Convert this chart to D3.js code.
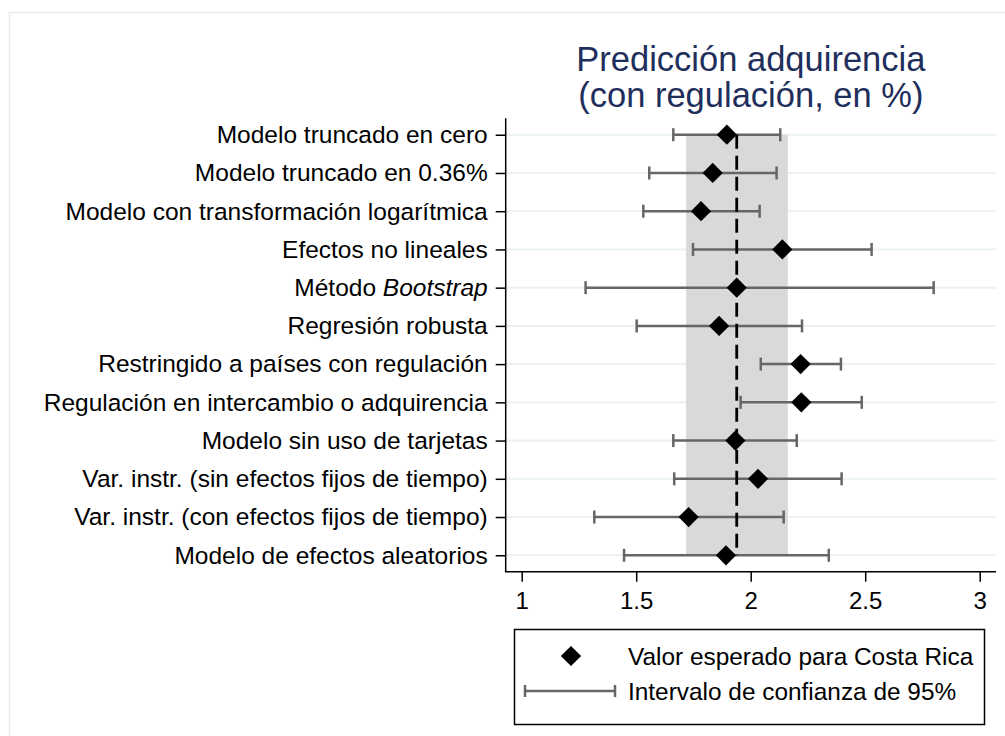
<!DOCTYPE html>
<html>
<head>
<meta charset="utf-8">
<script src="https://cdn.jsdelivr.net/npm/d3@7"></script>
<style>
  body { margin: 0; background: #fff; }
  svg { font-family: "Liberation Sans", Arial, sans-serif; }
</style>
</head>
<body>
<svg id="chart" width="1005" height="736"></svg>
<script>
// models (top to bottom)
var models = [
  "Modelo truncado en cero",
  "Modelo truncado en 0.36%",
  "Modelo con transformación logarítmica",
  "Efectos no lineales",
  "Método Bootstrap",
  "Regresión robusta",
  "Restringido a países con regulación",
  "Regulación en intercambio o adquirencia",
  "Modelo sin uso de tarjetas",
  "Var. instr. (sin efectos fijos de tiempo)",
  "Var. instr. (con efectos fijos de tiempo)",
  "Modelo de efectos aleatorios"
];
// expected value for Costa Rica
var estimate = [1.896, 1.834, 1.783, 2.138, 1.939, 1.862, 2.218, 2.221, 1.933, 2.032, 1.729, 1.892];
// 95% interval
var lower = [1.662, 1.557, 1.531, 1.748, 1.279, 1.502, 2.044, 1.956, 1.662, 1.666, 1.317, 1.447];
var upper = [2.129, 2.113, 2.039, 2.528, 2.799, 2.224, 2.394, 2.485, 2.201, 2.397, 2.144, 2.341];
// baseline estimate and its interval (shaded band)
var baseline = 1.939;
var band = [1.718, 2.162];
var xTicks = [1, 1.5, 2, 2.5, 3];

var svg = d3.select("#chart");

// light outer frame
svg.append("rect")
  .attr("x", 9.5).attr("y", 12.5)
  .attr("width", 1010).attr("height", 740)
  .attr("fill", "none").attr("stroke", "#e4ecee").attr("stroke-width", 1.5);

var pLeft = 505.7, pRight = 996, pTop = 118.3, pBottom = 571.7;

var x = d3.scaleLinear().domain([1, 3]).range([521.7, 979.7]);
var y = d3.scalePoint().domain(models).range([pTop, pBottom]).padding(0.43);

var data = models.map(function(m, i) {
  return { name: m, est: estimate[i], lo: lower[i], hi: upper[i] };
});

// gridlines
svg.append("g").selectAll("line")
  .data(models).enter().append("line")
  .attr("x1", pLeft).attr("x2", pRight)
  .attr("y1", function(d) { return y(d); })
  .attr("y2", function(d) { return y(d); })
  .attr("stroke", "#eaf1f3").attr("stroke-width", 2);

var yFirst = y(models[0]), yLast = y(models[models.length - 1]);

// shaded band
svg.append("rect")
  .attr("x", x(band[0])).attr("width", x(band[1]) - x(band[0]))
  .attr("y", yFirst).attr("height", yLast - yFirst)
  .attr("fill", "#d9d9d9");

// interval bars
var bars = svg.append("g").selectAll("g")
  .data(data).enter().append("g")
  .attr("stroke", "#666").attr("stroke-width", 2.5);
bars.append("line")
  .attr("x1", function(d) { return x(d.lo); })
  .attr("x2", function(d) { return x(d.hi); })
  .attr("y1", function(d) { return y(d.name); })
  .attr("y2", function(d) { return y(d.name); });
bars.append("line")
  .attr("x1", function(d) { return x(d.lo); })
  .attr("x2", function(d) { return x(d.lo); })
  .attr("y1", function(d) { return y(d.name) - 6.5; })
  .attr("y2", function(d) { return y(d.name) + 6.5; });
bars.append("line")
  .attr("x1", function(d) { return x(d.hi); })
  .attr("x2", function(d) { return x(d.hi); })
  .attr("y1", function(d) { return y(d.name) - 6.5; })
  .attr("y2", function(d) { return y(d.name) + 6.5; });

// dashed baseline
svg.append("line")
  .attr("x1", x(baseline)).attr("x2", x(baseline))
  .attr("y1", yFirst).attr("y2", yLast)
  .attr("stroke", "#000").attr("stroke-width", 2.8)
  .attr("stroke-dasharray", "14,7");

// diamonds
var diamond = d3.symbol().type(d3.symbolSquare).size(205);
svg.append("g").selectAll("path")
  .data(data).enter().append("path")
  .attr("d", diamond)
  .attr("transform", function(d) { return "translate(" + x(d.est) + "," + y(d.name) + ") rotate(45)"; })
  .attr("fill", "#000");

// axes
svg.append("line")
  .attr("x1", pLeft).attr("x2", pLeft).attr("y1", pTop).attr("y2", pBottom)
  .attr("stroke", "#000").attr("stroke-width", 1.5);
svg.append("line")
  .attr("x1", pLeft - 0.75).attr("x2", pRight).attr("y1", pBottom).attr("y2", pBottom)
  .attr("stroke", "#000").attr("stroke-width", 1.5);

var xAxis = svg.append("g")
  .attr("transform", "translate(0," + pBottom + ")")
  .call(d3.axisBottom(x).tickValues(xTicks).tickSize(10).tickPadding(10).tickFormat(d3.format("")));
xAxis.select(".domain").remove();
xAxis.selectAll(".tick line").attr("stroke", "#000").attr("stroke-width", 1.5);
xAxis.selectAll(".tick text").attr("font-size", 24).attr("fill", "#000")
  .style("font-family", "'Liberation Sans', Arial, sans-serif");

var yAxis = svg.append("g")
  .attr("transform", "translate(" + pLeft + ",0)")
  .call(d3.axisLeft(y).tickSize(10).tickPadding(8));
yAxis.select(".domain").remove();
yAxis.selectAll(".tick line").attr("stroke", "#000").attr("stroke-width", 1.5);
yAxis.selectAll(".tick text").attr("font-size", 24.5).attr("fill", "#000")
  .style("font-family", "'Liberation Sans', Arial, sans-serif")
  .each(function(d) {
    if (d === "Método Bootstrap") {
      var t = d3.select(this).text(null);
      t.append("tspan").text("Método ");
      t.append("tspan").attr("font-style", "italic").text("Bootstrap");
    }
  });

// title
var cx = (pLeft + pRight) / 2;
var title = svg.append("text")
  .attr("text-anchor", "middle")
  .attr("font-size", 34.5).attr("fill", "#1f2f5c");
title.append("tspan").attr("x", cx).attr("y", 71).text("Predicción adquirencia");
title.append("tspan").attr("x", cx).attr("y", 107).text("(con regulación, en %)");

// legend
var lg = svg.append("g");
lg.append("rect")
  .attr("x", 514.5).attr("y", 629.5).attr("width", 470).attr("height", 95)
  .attr("fill", "#fff").attr("stroke", "#000").attr("stroke-width", 1.5);
lg.append("path")
  .attr("d", diamond)
  .attr("transform", "translate(571,656) rotate(45)")
  .attr("fill", "#000");
lg.append("line").attr("x1", 525).attr("x2", 615).attr("y1", 691).attr("y2", 691)
  .attr("stroke", "#666").attr("stroke-width", 2.5);
lg.append("line").attr("x1", 525).attr("x2", 525).attr("y1", 685).attr("y2", 697)
  .attr("stroke", "#666").attr("stroke-width", 2.5);
lg.append("line").attr("x1", 615).attr("x2", 615).attr("y1", 685).attr("y2", 697)
  .attr("stroke", "#666").attr("stroke-width", 2.5);
lg.append("text").attr("x", 628).attr("y", 665).attr("font-size", 24.4)
  .text("Valor esperado para Costa Rica");
lg.append("text").attr("x", 628).attr("y", 700).attr("font-size", 24.4)
  .text("Intervalo de confianza de 95%");
</script>
</body>
</html>
